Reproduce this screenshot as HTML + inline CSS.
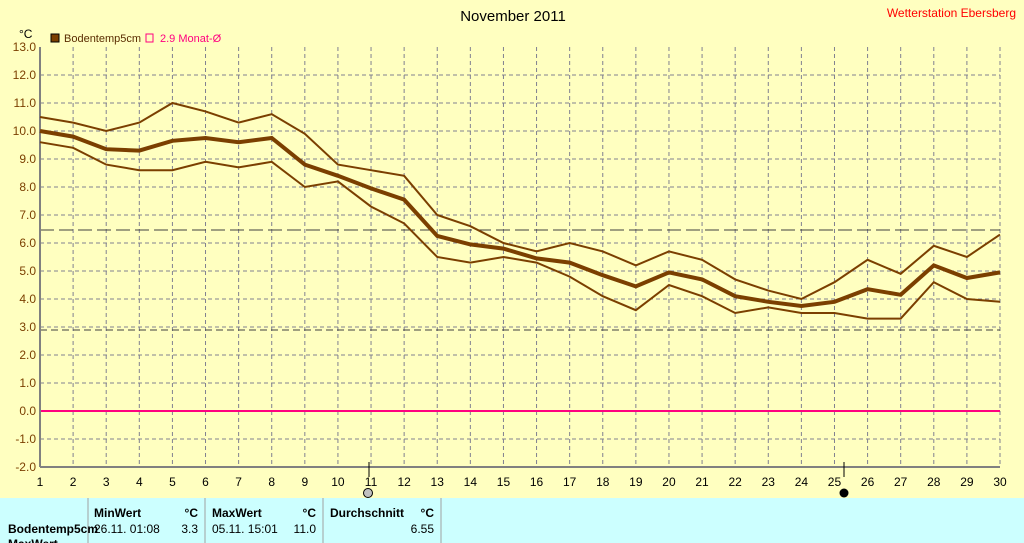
<!DOCTYPE html>
<html><head><style>
body{margin:0;width:1024px;height:543px;overflow:hidden;background:#ffffc0;font-family:"Liberation Sans",sans-serif;}
</style></head><body>
<svg width="1024" height="543" xmlns="http://www.w3.org/2000/svg" style="position:absolute;left:0;top:0">
<rect width="1024" height="543" fill="#ffffc0"/>
<text x="513" y="21" font-size="15" text-anchor="middle" fill="#000">November 2011</text>
<text x="1016" y="17" font-size="12" text-anchor="end" fill="#ff0000">Wetterstation Ebersberg</text>
<text x="19" y="38" font-size="12" fill="#000">°C</text>
<rect x="51" y="34" width="8" height="8" fill="#7b3f00" stroke="#000"/>
<text x="64" y="42" font-size="11" fill="#5a2d00">Bodentemp5cm</text>
<rect x="146" y="34" width="7" height="8" fill="none" stroke="#ff0080"/>
<text x="160" y="42" font-size="11" fill="#ff0080">2.9 Monat-Ø</text>
<g id="grid" stroke="#808090" stroke-dasharray="4,3" stroke-width="1"></g>
<g id="ylab" font-size="12" fill="#7b3f00" text-anchor="end"></g>
<g id="xlab" font-size="12" fill="#000" text-anchor="middle"></g>
<line x1="40" y1="230" x2="1000" y2="230" stroke="#404040" stroke-dasharray="14,5"/>
<line x1="40" y1="330" x2="1000" y2="330" stroke="#404040" stroke-dasharray="7,4"/>
<line x1="40" y1="411" x2="1000" y2="411" stroke="#ff0080" stroke-width="2"/>
<line x1="40" y1="47" x2="40" y2="467" stroke="#808080" stroke-width="2"/>
<line x1="40" y1="467" x2="1000" y2="467" stroke="#808080" stroke-width="2"/>
<g id="series" fill="none" stroke="#7b3f00"></g>
<line x1="369" y1="462" x2="369" y2="477" stroke="#000"/>
<line x1="844" y1="462" x2="844" y2="477" stroke="#000"/>
<circle cx="368" cy="493" r="4.5" fill="#c0c0c0" stroke="#000"/>
<circle cx="844" cy="493" r="4.5" fill="#000"/>
<rect x="0" y="498" width="1024" height="45" fill="#ccffff"/>
<g stroke="#a0a0a0"><line x1="88" y1="498" x2="88" y2="543"/><line x1="205" y1="498" x2="205" y2="543"/><line x1="323" y1="498" x2="323" y2="543"/><line x1="441" y1="498" x2="441" y2="543"/></g>
<g font-size="12" fill="#000">
<text x="94" y="517" font-weight="bold">MinWert</text><text x="198" y="517" font-weight="bold" text-anchor="end">°C</text>
<text x="212" y="517" font-weight="bold">MaxWert</text><text x="316" y="517" font-weight="bold" text-anchor="end">°C</text>
<text x="330" y="517" font-weight="bold">Durchschnitt</text><text x="434" y="517" font-weight="bold" text-anchor="end">°C</text>
<text x="8" y="533" font-weight="bold">Bodentemp5cm</text>
<text x="94" y="533">26.11.  01:08</text><text x="198" y="533" text-anchor="end">3.3</text>
<text x="212" y="533">05.11.  15:01</text><text x="316" y="533" text-anchor="end">11.0</text>
<text x="434" y="533" text-anchor="end">6.55</text>
<text x="8" y="548" font-weight="bold">MaxWert</text>
</g>
</svg>
<script>
const ns="http://www.w3.org/2000/svg";
const X=d=>40+(d-1)*960/29, Y=v=>47+(13-v)*28;
const g=document.getElementById('grid'),yl=document.getElementById('ylab'),xl=document.getElementById('xlab'),s=document.getElementById('series');
function el(p,t,a,txt){const e=document.createElementNS(ns,t);for(const k in a)e.setAttribute(k,a[k]);if(txt!=null)e.textContent=txt;p.appendChild(e);}
for(let v=-2;v<=13;v++){if(v<13)el(g,'line',{x1:40,x2:1000,y1:Y(v),y2:Y(v)});el(yl,'text',{x:36,y:Y(v)+4},v.toFixed(1));}
for(let d=1;d<=30;d++){if(d>1)el(g,'line',{x1:X(d),x2:X(d),y1:47,y2:467});el(xl,'text',{x:X(d),y:486},d);}
const mx=[10.5,10.3,10.0,10.3,11.0,10.7,10.3,10.6,9.9,8.8,8.6,8.4,7.0,6.6,6.0,5.7,6.0,5.7,5.2,5.7,5.4,4.7,4.3,4.0,4.6,5.4,4.9,5.9,5.5,6.3];
const av=[10.0,9.8,9.35,9.3,9.65,9.75,9.6,9.75,8.8,8.4,7.95,7.55,6.25,5.95,5.8,5.45,5.3,4.85,4.45,4.95,4.7,4.1,3.9,3.75,3.9,4.35,4.15,5.2,4.75,4.95];
const mn=[9.6,9.4,8.8,8.6,8.6,8.9,8.7,8.9,8.0,8.2,7.3,6.7,5.5,5.3,5.5,5.3,4.8,4.1,3.6,4.5,4.1,3.5,3.7,3.5,3.5,3.3,3.3,4.6,4.0,3.9];
[[mx,2],[av,4],[mn,2]].forEach(([a,w])=>el(s,'polyline',{points:a.map((v,i)=>X(i+1)+','+Y(v)).join(' '),'stroke-width':w}));
</script>
</body></html>
